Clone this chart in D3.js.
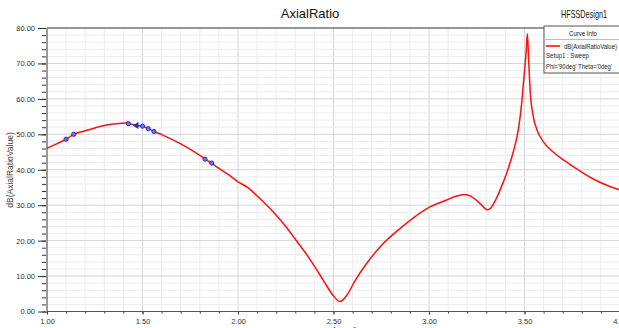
<!DOCTYPE html>
<html><head><meta charset="utf-8">
<script src="https://cdn.jsdelivr.net/npm/d3@7"></script>
<style>body{margin:0;background:#fff;}svg{display:block;font-family:"Liberation Sans",Arial,sans-serif;}</style>
</head><body><svg id="c" width="619" height="328"></svg>
<script>
const freq = [1.00,1.05,1.10,1.14,1.20,1.25,1.30,1.35,1.41,1.43,1.47,1.50,1.53,1.56,1.60,1.70,1.83,1.86,1.90,1.95,2.00,2.05,2.10,2.185,2.25,2.30,2.35,2.40,2.45,2.50,2.534,2.57,2.61,2.674,2.752,2.848,2.92,3.005,3.09,3.14,3.185,3.22,3.25,3.28,3.305,3.325,3.35,3.38,3.41,3.44,3.467,3.485,3.497,3.508,3.515,3.521,3.53,3.545,3.565,3.60,3.65,3.70,3.755,3.86,3.95,4.00];
const axialRatio = [46.1,47.3,48.6,50.0,51.0,51.8,52.5,52.9,53.2,53.0,52.5,52.2,51.6,50.8,49.9,47.3,43.0,41.9,40.4,38.6,36.6,35.0,32.6,28.1,24.0,20.4,16.8,12.8,8.5,4.4,2.8,4.6,8.4,13.6,18.7,23.4,26.5,29.5,31.4,32.5,33.0,32.5,31.3,29.8,28.7,29.3,31.6,35.3,39.6,44.8,51.1,58.6,66.1,72.7,78.4,72.0,62.0,55.3,51.3,47.8,45.0,42.9,40.9,37.4,35.2,34.3];
const markerFreq = [1.10,1.14,1.426,1.50,1.53,1.56,1.827,1.862];
const markerVal = [48.6,50.0,53.0,52.3,51.6,50.8,43.0,41.9];
const triFreq = [1.466];
const triVal = [52.5];
const xTickLabels = ["1.00","1.50","2.00","2.50","3.00","3.50","4.00"];
const yTickLabels = ["0.00","10.00","20.00","30.00","40.00","50.00","60.00","70.00","80.00"];

const svg = d3.select("#c");
const L=47, R=620, T=28, B=311.5;
const x = d3.scaleLinear().domain([1,4]).range([L,R]);
const y = d3.scaleLinear().domain([0,80]).range([B,T]);

// grid
const g = svg.append("g");
const vMinor = d3.range(10,41).map(d=>d/10);
g.selectAll(".vg").data(vMinor).enter().append("line")
  .attr("x1",d=>x(d)).attr("x2",d=>x(d)).attr("y1",T).attr("y2",B)
  .attr("stroke",d=>Math.round(d*10)%5===0?"#d4d4d4":"#ececec").attr("stroke-width",1);
const hMinor = d3.range(0,81,2);
g.selectAll(".hg").data(hMinor).enter().append("line")
  .attr("x1",L).attr("x2",R).attr("y1",d=>y(d)).attr("y2",d=>y(d))
  .attr("stroke",d=>d%10===0?"#d4d4d4":"#ececec").attr("stroke-width",1);

// top border
svg.append("line").attr("x1",L).attr("x2",R).attr("y1",T).attr("y2",T).attr("stroke","#444").attr("stroke-width",1);

// y axis
const ya = svg.append("g").attr("transform",`translate(${L},0)`).call(d3.axisLeft(y).tickValues(hMinor).tickSize(5).tickFormat(""));
const yb = svg.append("g").attr("transform",`translate(${L},0)`).call(d3.axisLeft(y).tickValues(yTickLabels.map(Number)).tickSize(9).tickPadding(3).tickFormat((d,i)=>yTickLabels[i]));
[ya,yb].forEach(s=>{s.select(".domain").remove();s.selectAll("line").attr("stroke","#333");});
yb.selectAll("text").attr("font-size","7.5px").attr("fill","#333").attr("font-family","Liberation Sans, Arial");
svg.append("line").attr("x1",L).attr("x2",L).attr("y1",T).attr("y2",B+1).attr("stroke","#999").attr("stroke-width",2);

// x axis
const xa = svg.append("g").attr("transform",`translate(0,${B})`).call(d3.axisBottom(x).tickValues(vMinor).tickSize(2).tickFormat(""));
const xb = svg.append("g").attr("transform",`translate(0,${B})`).call(d3.axisBottom(x).tickValues(xTickLabels.map(Number)).tickSize(3).tickPadding(4).tickFormat((d,i)=>xTickLabels[i]));
[xa,xb].forEach(s=>{s.select(".domain").remove();s.selectAll("line").attr("stroke","#333");});
xb.selectAll("text").attr("font-size","7.5px").attr("fill","#333").attr("font-family","Liberation Sans, Arial");
svg.append("line").attr("x1",L).attr("x2",R).attr("y1",B).attr("y2",B).attr("stroke","#555").attr("stroke-width",1.2);

// curve
const pts = freq.map((f,i)=>[f,axialRatio[i]]);
svg.append("path").datum(pts)
  .attr("d",d3.line().x(d=>x(d[0])).y(d=>y(d[1])).curve(d3.curveMonotoneX))
  .attr("fill","none").attr("stroke","#ff1010").attr("stroke-width",1.5);

// markers
svg.selectAll(".mk").data(markerFreq).enter().append("circle")
  .attr("cx",d=>x(d)).attr("cy",(d,i)=>y(markerVal[i])).attr("r",2.1)
  .attr("fill","#6a78e0").attr("stroke","#1f2fc0").attr("stroke-width",1);
svg.selectAll(".tri").data(triFreq).enter().append("path")
  .attr("d",(d,i)=>{const cx=x(d),cy=y(triVal[i]);return `M${cx-3.5},${cy} L${cx+2.5},${cy-3.5} L${cx+2.5},${cy+3.5} Z`;})
  .attr("fill","#1f2fc0");

// titles
svg.append("text").attr("x",310).attr("y",18).attr("text-anchor","middle").attr("font-size","13px").attr("fill","#111").text("AxialRatio");
svg.append("text").attr("x",561).attr("y",18).attr("font-size","10.5px").attr("fill","#111")
  .attr("textLength",46).attr("lengthAdjust","spacingAndGlyphs").text("HFSSDesign1");
svg.append("text").attr("x",13).attr("y",170).attr("transform","rotate(-90,13,170)").attr("text-anchor","middle").attr("font-size","8.5px").attr("fill","#444").text("dB(AxialRatioValue)");
svg.append("text").attr("x",334).attr("y",334).attr("text-anchor","middle").attr("font-size","9px").attr("fill","#444").text("Freq [GHz]");

// legend
const lg = svg.append("g");
lg.append("rect").attr("x",544).attr("y",26).attr("width",80).attr("height",47).attr("fill","#fff").attr("stroke","#555").attr("stroke-width",1);
lg.append("line").attr("x1",544).attr("x2",624).attr("y1",39.5).attr("y2",39.5).attr("stroke","#bbb");
lg.append("text").attr("x",569).attr("y",36).attr("font-size","7px").attr("fill","#222").attr("textLength",28).attr("lengthAdjust","spacingAndGlyphs").text("Curve Info");
lg.append("line").attr("x1",546).attr("x2",560).attr("y1",46).attr("y2",46).attr("stroke","#ff1010").attr("stroke-width",1.6);
lg.append("text").attr("x",564).attr("y",48.5).attr("font-size","7px").attr("fill","#222").attr("textLength",53).attr("lengthAdjust","spacingAndGlyphs").text("dB(AxialRatioValue)");
lg.append("text").attr("x",546).attr("y",58).attr("font-size","7px").attr("fill","#222").attr("textLength",43).attr("lengthAdjust","spacingAndGlyphs").text("Setup1 : Sweep");
lg.append("text").attr("x",546).attr("y",69).attr("font-size","7px").attr("fill","#222").attr("textLength",66).attr("lengthAdjust","spacingAndGlyphs").text("Phi='90deg' Theta='0deg'");
</script></body></html>
